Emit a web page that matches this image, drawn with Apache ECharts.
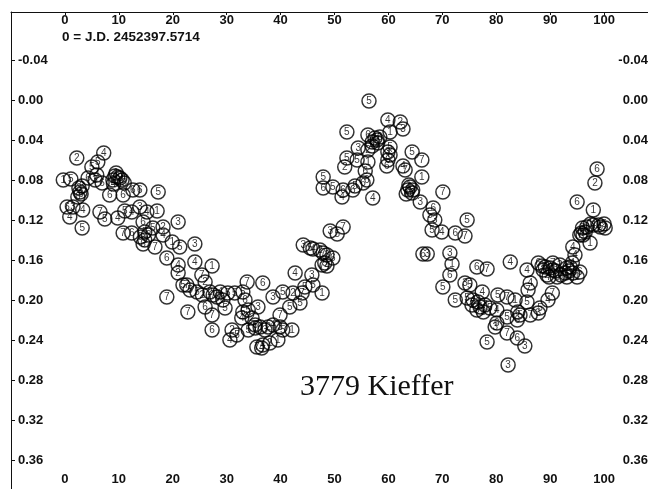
<!DOCTYPE html>
<html>
<head>
<meta charset="utf-8">
<style>
  html, body { margin: 0; padding: 0; background: #fff; }
  #chart { width: 648px; height: 489px; }
</style>
<script src="https://cdn.jsdelivr.net/npm/echarts@6/dist/echarts.min.js"></script>
</head>
<body>
<div id="chart"></div>
<script>
// Lightcurve of 3779 Kieffer: relative magnitude vs. rotational phase (%),
// one marker series per observing night (circled night number).
const phaseTicks = [0, 10, 20, 30, 40, 50, 60, 70, 80, 90, 100];
const magTicks = [-0.04, 0.00, 0.04, 0.08, 0.12, 0.16, 0.20, 0.24, 0.28, 0.32, 0.36];

// [phase %, relative magnitude]
const night1 = [
  [-0.3, 0.080], [10.6, 0.080], [17.1, 0.111], [14.8, 0.140], [19.9, 0.142],
  [27.3, 0.166], [35.3, 0.228], [47.7, 0.193], [42.1, 0.230], [39.5, 0.240],
  [60.3, 0.032], [56.2, 0.062], [66.2, 0.077], [64.0, 0.087], [71.8, 0.164],
  [93.1, 0.168], [95.0, 0.177], [96.1, 0.135], [97.4, 0.143], [76.6, 0.202],
  [83.5, 0.200], [98.0, 0.110], [9.5, 0.073], [57.5, 0.038], [63.8, 0.085],
  [97.5, 0.124], [88.5, 0.166], [75.5, 0.205]
];
const night2 = [
  [2.2, 0.058], [8.9, 0.080], [18.2, 0.127], [21.0, 0.173], [26.0, 0.182],
  [26.9, 0.192], [31.0, 0.230], [34.7, 0.218], [42.3, 0.193], [37.7, 0.227],
  [38.0, 0.243], [47.3, 0.150], [62.2, 0.022], [57.9, 0.040], [56.2, 0.050],
  [51.9, 0.067], [91.8, 0.165], [89.4, 0.175], [98.3, 0.083], [100.2, 0.128],
  [10.2, 0.078], [58.0, 0.043], [99.0, 0.125], [90.0, 0.168], [25.5, 0.195]
];
const night3 = [
  [3.2, 0.086], [5.6, 0.080], [1.5, 0.107], [13.9, 0.107], [21.0, 0.122],
  [24.1, 0.144], [35.8, 0.207], [38.6, 0.197], [45.8, 0.175], [39.9, 0.227],
  [37.1, 0.230], [44.2, 0.145], [48.6, 0.155], [49.2, 0.131], [62.7, 0.029],
  [59.9, 0.052], [54.4, 0.048], [63.6, 0.090], [65.9, 0.102], [68.6, 0.120],
  [67.2, 0.154], [71.4, 0.153], [74.2, 0.183], [77.6, 0.212], [79.8, 0.227],
  [87.8, 0.213], [85.3, 0.246], [82.2, 0.265], [94.2, 0.173], [96.8, 0.127],
  [88.7, 0.170], [11.0, 0.083], [2.6, 0.088], [64.5, 0.090], [96.0, 0.128],
  [91.0, 0.171], [15.5, 0.135]
];
const night4 = [
  [7.2, 0.053], [5.9, 0.075], [9.3, 0.076], [2.8, 0.092], [3.3, 0.110],
  [0.9, 0.117], [9.8, 0.118], [12.4, 0.112], [15.2, 0.112], [18.2, 0.135],
  [21.0, 0.165], [24.1, 0.162], [28.8, 0.192], [30.6, 0.240], [32.8, 0.218],
  [42.7, 0.173], [38.6, 0.225], [36.7, 0.245], [36.5, 0.248], [46.0, 0.149],
  [48.6, 0.166], [59.9, 0.020], [51.4, 0.097], [57.1, 0.098], [62.7, 0.066],
  [69.9, 0.132], [82.6, 0.162], [85.7, 0.170], [94.1, 0.163], [94.2, 0.147],
  [94.6, 0.155], [77.4, 0.192], [75.7, 0.200], [80.1, 0.210], [86.3, 0.183],
  [89.6, 0.200], [98.0, 0.125], [9.0, 0.084], [57.0, 0.046], [95.8, 0.133],
  [92.0, 0.175], [77.0, 0.207]
];
const night5 = [
  [1.1, 0.079], [6.1, 0.062], [5.0, 0.067], [7.4, 0.119], [3.2, 0.128],
  [11.1, 0.111], [17.3, 0.092], [14.8, 0.132], [16.3, 0.128], [21.3, 0.147],
  [21.9, 0.185], [23.2, 0.190], [24.5, 0.192], [30.2, 0.193], [31.5, 0.193],
  [29.7, 0.208], [33.0, 0.192], [34.0, 0.210], [31.9, 0.235], [34.0, 0.230],
  [33.0, 0.212], [40.4, 0.192], [46.0, 0.185], [44.5, 0.187], [41.7, 0.207],
  [43.6, 0.203], [40.4, 0.230], [45.5, 0.148], [48.2, 0.163], [56.4, 0.001],
  [52.3, 0.032], [57.0, 0.042], [60.3, 0.047], [52.3, 0.058], [54.2, 0.060],
  [64.4, 0.052], [47.9, 0.077], [49.7, 0.087], [53.8, 0.086], [67.7, 0.115],
  [74.6, 0.120], [68.1, 0.130], [70.1, 0.187], [89.1, 0.167], [93.1, 0.177],
  [75.1, 0.185], [72.4, 0.200], [74.6, 0.198], [78.8, 0.208], [80.3, 0.195],
  [85.7, 0.202], [88.1, 0.208], [84.4, 0.215], [82.0, 0.217], [78.3, 0.242],
  [99.3, 0.127], [90.5, 0.170], [50.5, 0.134], [100.0, 0.124], [93.5, 0.171]
];
const night6 = [
  [2.4, 0.097], [4.3, 0.078], [6.9, 0.083], [9.8, 0.077], [8.3, 0.095],
  [10.8, 0.095], [12.6, 0.090], [13.9, 0.090], [0.4, 0.107], [14.5, 0.122],
  [12.4, 0.133], [14.5, 0.144], [18.9, 0.158], [28.2, 0.197], [36.7, 0.183],
  [26.0, 0.207], [29.3, 0.200], [33.4, 0.200], [27.3, 0.230], [35.3, 0.225],
  [36.2, 0.227], [49.7, 0.158], [56.2, 0.035], [58.4, 0.037], [60.3, 0.055],
  [59.9, 0.060], [59.7, 0.066], [55.7, 0.071], [47.9, 0.088], [51.6, 0.090],
  [53.4, 0.090], [55.3, 0.083], [56.0, 0.080], [64.4, 0.093], [68.3, 0.108],
  [72.4, 0.133], [66.4, 0.154], [71.4, 0.175], [76.4, 0.167], [87.8, 0.163],
  [91.3, 0.177], [76.4, 0.210], [84.0, 0.212], [83.9, 0.220], [80.1, 0.223],
  [83.9, 0.238], [98.7, 0.069], [95.0, 0.102], [96.5, 0.132], [92.8, 0.173],
  [3.0, 0.094], [63.3, 0.094], [95.5, 0.172], [14.0, 0.137]
];
const night7 = [
  [6.5, 0.112], [10.8, 0.133], [16.7, 0.147], [25.4, 0.175], [22.6, 0.185],
  [33.8, 0.182], [18.9, 0.197], [22.8, 0.212], [27.3, 0.215], [44.0, 0.193],
  [39.9, 0.215], [35.6, 0.247], [47.9, 0.153], [47.7, 0.165], [51.6, 0.127],
  [66.2, 0.060], [63.1, 0.070], [70.1, 0.092], [74.2, 0.136], [78.3, 0.169],
  [90.5, 0.163], [93.7, 0.167], [77.9, 0.205], [85.9, 0.190], [82.0, 0.197],
  [90.4, 0.193], [86.3, 0.215], [82.0, 0.233], [95.5, 0.135], [89.8, 0.177],
  [27.5, 0.195]
];

const nights = [night1, night2, night3, night4, night5, night6, night7];

const axisFont = {
  fontFamily: 'Liberation Sans, Arial, sans-serif',
  fontWeight: 'bold',
  fontSize: 13,
  color: '#111'
};

const chart = echarts.init(document.getElementById('chart'), null, { renderer: 'canvas' });

const phaseAxis = (position, margin) => ({
  type: 'value',
  position: position,
  min: -10,
  max: 110,
  splitLine: { show: false },
  axisLine: { show: true, onZero: false, lineStyle: { color: '#111', width: 1 } },
  axisTick: { show: true, inside: true, length: 3, customValues: phaseTicks, lineStyle: { color: '#111' } },
  axisLabel: Object.assign({ inside: true, margin: margin, customValues: phaseTicks }, axisFont)
});

const magAxis = (position, margin) => ({
  type: 'value',
  position: position,
  inverse: true,
  min: -0.088,
  max: 0.392,
  splitLine: { show: false },
  axisLine: { show: true, onZero: false, lineStyle: { color: '#111', width: 1 } },
  axisTick: { show: true, inside: true, length: 4, customValues: magTicks, lineStyle: { color: '#111' } },
  axisLabel: Object.assign({
    inside: true,
    margin: margin,
    customValues: magTicks,
    formatter: v => v.toFixed(2)
  }, axisFont)
});

chart.setOption({
  animation: false,
  backgroundColor: '#fff',
  grid: { left: 11, top: 12, right: -10, bottom: -3, containLabel: false, outerBoundsMode: 'none' },
  xAxis: [phaseAxis('bottom', 6), phaseAxis('top', 2)],
  yAxis: [magAxis('left', 7), magAxis('right', 10)],
  graphic: [
    {
      type: 'text',
      left: 62,
      top: 30,
      silent: true,
      style: {
        text: '0 = J.D. 2452397.5714',
        font: 'bold 13.5px "Liberation Sans", Arial, sans-serif',
        fill: '#111'
      }
    },
    {
      type: 'text',
      left: 300,
      top: 372,
      silent: true,
      style: {
        text: '3779 Kieffer',
        font: '30px "Liberation Serif", "Times New Roman", serif',
        fill: '#111'
      }
    }
  ],
  series: nights.map((pts, i) => ({
    name: String(i + 1),
    type: 'scatter',
    xAxisIndex: 0,
    yAxisIndex: 0,
    data: pts,
    symbol: 'circle',
    symbolSize: 14,
    silent: true,
    itemStyle: { color: 'rgba(255,255,255,0)', borderColor: '#000', borderWidth: 1.5 },
    label: {
      show: true,
      position: 'inside',
      formatter: String(i + 1),
      fontFamily: 'Liberation Sans, Arial, sans-serif',
      fontSize: 10,
      color: '#000'
    },
    labelLayout: { hideOverlap: false },
    emphasis: { disabled: true }
  }))
});
</script>
</body>
</html>
